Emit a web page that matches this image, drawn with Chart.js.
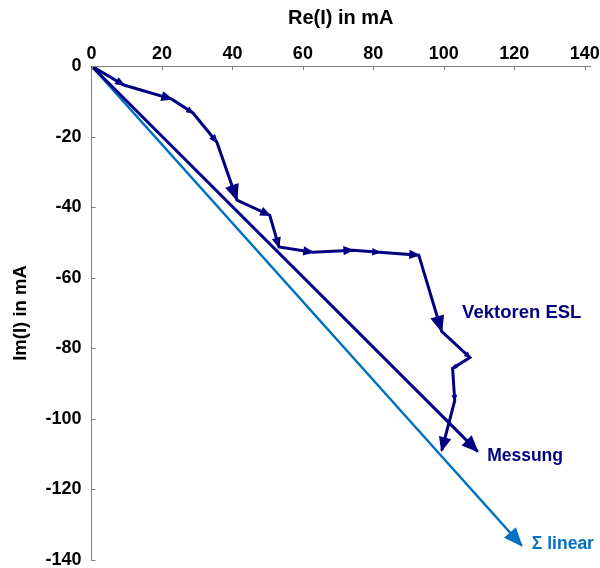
<!DOCTYPE html>
<html>
<head>
<meta charset="utf-8">
<script src="https://cdn.jsdelivr.net/npm/chart.js@4/dist/chart.umd.min.js"></script>
<style>
  html, body { margin: 0; padding: 0; background: #ffffff; }
  #wrap { width: 600px; height: 568px; }
</style>
</head>
<body>
<div id="wrap"><canvas id="c" width="600" height="568"></canvas></div>
<script>
// ---- data ----
const vectorRe = [0, 9.2, 22.8, 28.8, 35.6, 41.3, 50.6, 53.2, 62.8, 74.2, 81.8, 92.9, 99.4, 107.4, 102.5, 103.1, 99.4];
const vectorIm = [0, -5.4, -9.4, -13.3, -21.6, -38.0, -42.3, -51.3, -52.8, -52.2, -52.8, -53.6, -75.2, -82.6, -85.7, -94.8, -109.0];
const messungRe = [0, 109.6];
const messungIm = [0, -109.2];
const linearRe = [0, 122.1];
const linearIm = [0, -135.9];
const xTicks = [0, 20, 40, 60, 80, 100, 120, 140];
const yTicks = [0, -20, -40, -60, -80, -100, -120, -140];

// ---- styles ----
const NAVY = '#000080';
const BLUE = '#0070c0';
const vectorArrowSizes = [10, 12, 8, 9, 17, 11, 11, 11, 11, 9, 11, 17, 7, 6, 7, 15];
const seriesLabels = [
  { text: 'Vektoren ESL', x: 105.2, y: -70.1, color: NAVY, size: 18.5 },
  { text: 'Messung', x: 112.3, y: -110.7, color: NAVY, size: 17.5 },
  { text: '\u03A3 linear', x: 125.0, y: -135.4, color: BLUE, size: 17.5 }
];

const toPts = (xs, ys) => xs.map((x, i) => ({ x: x, y: ys[i] }));

const arrowPlugin = {
  id: 'arrows',
  afterDatasetsDraw(chart) {
    const ctx = chart.ctx;
    chart.data.datasets.forEach((ds, di) => {
      const pts = chart.getDatasetMeta(di).data;
      ctx.save();
      ctx.fillStyle = ds.borderColor;
      for (let i = 1; i < pts.length; i++) {
        const L = ds.arrowSizes[i - 1];
        const a = pts[i - 1], b = pts[i];
        const ang = Math.atan2(b.y - a.y, b.x - a.x);
        const c = Math.cos(ang), s = Math.sin(ang);
        const W = L * 0.42;
        const tx = b.x + c * 1.5, ty = b.y + s * 1.5;
        ctx.beginPath();
        ctx.moveTo(tx, ty);
        ctx.lineTo(tx - L * c + W * s, ty - L * s - W * c);
        ctx.lineTo(tx - L * c - W * s, ty - L * s + W * c);
        ctx.closePath();
        ctx.fill();
      }
      ctx.restore();
    });
  }
};

const decorPlugin = {
  id: 'decor',
  afterDraw(chart) {
    const ctx = chart.ctx;
    const xs = chart.scales.x, ys = chart.scales.y;
    ctx.save();
    // inner tick marks
    ctx.strokeStyle = '#7f7f7f';
    ctx.lineWidth = 1;
    xTicks.forEach(v => {
      const px = Math.round(xs.getPixelForValue(v)) + 0.5;
      ctx.beginPath(); ctx.moveTo(px, ys.top); ctx.lineTo(px, ys.top + 4); ctx.stroke();
    });
    yTicks.forEach(v => {
      const py = Math.round(ys.getPixelForValue(v)) + 0.5;
      ctx.beginPath(); ctx.moveTo(xs.left, py); ctx.lineTo(xs.left + 4, py); ctx.stroke();
    });
    // series labels
    ctx.textBaseline = 'middle';
    ctx.textAlign = 'left';
    seriesLabels.forEach(l => {
      ctx.fillStyle = l.color;
      ctx.font = 'bold ' + l.size + 'px "Liberation Sans", Arial, sans-serif';
      ctx.fillText(l.text, xs.getPixelForValue(l.x), ys.getPixelForValue(l.y));
    });
    ctx.restore();
  }
};

Chart.defaults.font.family = '"Liberation Sans", Arial, sans-serif';
Chart.defaults.color = '#000000';

new Chart(document.getElementById('c'), {
  type: 'scatter',
  data: {
    datasets: [
      {
        label: 'Vektoren ESL',
        data: toPts(vectorRe, vectorIm),
        showLine: true,
        borderColor: NAVY,
        backgroundColor: NAVY,
        borderWidth: 3,
        pointRadius: 0,
        borderJoinStyle: 'miter',
        arrowSizes: vectorArrowSizes
      },
      {
        label: 'Messung',
        data: toPts(messungRe, messungIm),
        showLine: true,
        borderColor: NAVY,
        backgroundColor: NAVY,
        borderWidth: 3,
        pointRadius: 0,
        arrowSizes: [17]
      },
      {
        label: '\u03A3 linear',
        data: toPts(linearRe, linearIm),
        showLine: true,
        borderColor: BLUE,
        backgroundColor: BLUE,
        borderWidth: 2.5,
        pointRadius: 0,
        arrowSizes: [19]
      }
    ]
  },
  options: {
    responsive: false,
    animation: false,
    events: [],
    layout: { padding: { left: 0, top: 0, right: 10, bottom: 8 } },
    plugins: { legend: { display: false }, tooltip: { enabled: false } },
    scales: {
      x: {
        type: 'linear',
        position: 'top',
        min: 0,
        max: 141.5,
        afterBuildTicks: s => { s.ticks = xTicks.map(v => ({ value: v })); },
        afterFit: s => { s.height = 66; s.paddingLeft = 0; s.paddingRight = 0; },
        grid: { display: false, drawTicks: false },
        border: { display: true, color: '#7f7f7f', width: 1 },
        ticks: { padding: 1, maxRotation: 0, autoSkip: false, font: { size: 18, weight: 'bold' }, color: '#000' },
        title: { display: true, text: 'Re(I) in mA', font: { size: 20, weight: 'bold' }, color: '#000', padding: { top: 6, bottom: 0 } }
      },
      y: {
        type: 'linear',
        position: 'left',
        min: -140,
        max: 0,
        afterBuildTicks: s => { s.ticks = yTicks.map(v => ({ value: v })); },
        afterFit: s => { s.width = 91.5; s.paddingTop = 0; s.paddingBottom = 0; },
        grid: { display: false, drawTicks: false },
        border: { display: true, color: '#7f7f7f', width: 1 },
        ticks: { padding: 10, autoSkip: false, font: { size: 18, weight: 'bold' }, color: '#000' },
        title: { display: true, text: 'Im(I) in mA', font: { size: 18.5, weight: 'bold' }, color: '#000', padding: { top: 10, bottom: 0 } }
      }
    }
  },
  plugins: [arrowPlugin, decorPlugin]
});
</script>
</body>
</html>
